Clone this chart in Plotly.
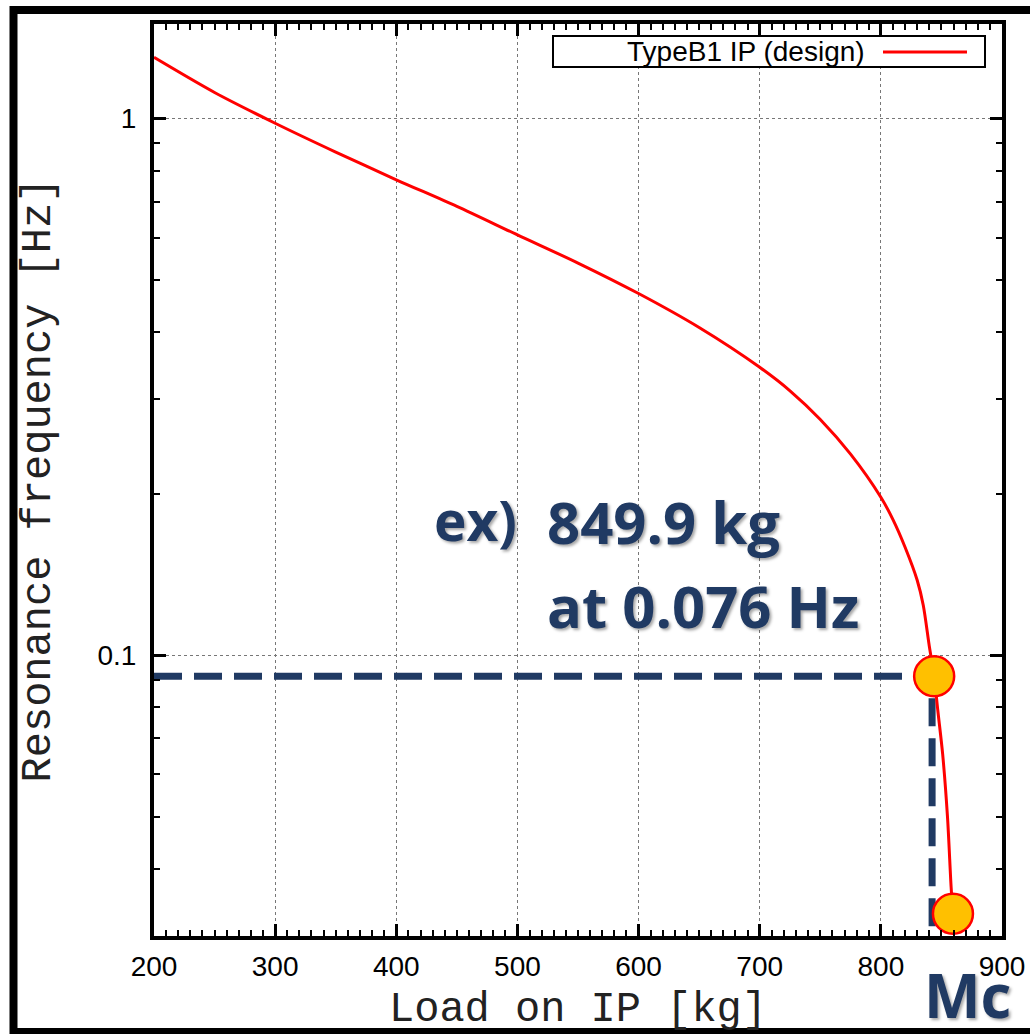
import math
import plotly.graph_objects as go

# ---- data ----
load_kg = [200, 250, 300, 350, 400, 450, 500, 550, 600, 650, 700, 725, 750, 775,
           800, 810, 820, 830, 835, 840, 844, 847, 851, 855, 858, 859.5]
freq_hz = [1.30, 1.118, 0.980, 0.866, 0.769, 0.686, 0.607, 0.538, 0.472, 0.408,
           0.344, 0.311, 0.275, 0.237, 0.197, 0.179, 0.159, 0.138, 0.124, 0.104,
           0.0914, 0.079, 0.0655, 0.050, 0.037, 0.033]
series_name = "TypeB1 IP (design)"

point_load = [844, 859.5]
point_freq = [0.0914, 0.033]

guide_load = 842.3
guide_freq = 0.0914

x_ticks = [200, 300, 400, 500, 600, 700, 800, 900]
y_ticks = [0.1, 1]
y_tick_text = ["0.1", "1"]
y_minor = [0.04, 0.05, 0.06, 0.07, 0.08, 0.09, 0.2, 0.3, 0.4, 0.5, 0.6, 0.7, 0.8, 0.9]
x_range = [200, 900]
y_range = [0.03, 1.5]

NAVY = "#203A63"

fig = go.Figure()

# dashed guide lines
fig.add_trace(go.Scatter(x=[x_range[0], guide_load, guide_load],
                         y=[guide_freq, guide_freq, y_range[0]],
                         mode="lines", showlegend=False, hoverinfo="skip",
                         line=dict(color=NAVY, width=7, dash="28px,12px")))

fig.add_trace(go.Scatter(x=load_kg, y=freq_hz, mode="lines", name=series_name,
                         showlegend=False,
                         line=dict(color="#FF0000", width=3, shape="spline", smoothing=0.8)))

fig.add_trace(go.Scatter(x=point_load, y=point_freq, mode="markers", showlegend=False,
                         cliponaxis=False,
                         marker=dict(size=40, color="#FFC000", line=dict(color="#FF0000", width=2.5))))

axis_common = dict(showline=True, linecolor="black", linewidth=4, mirror="allticks",
                   ticks="inside", ticklen=12, tickwidth=2.5, tickcolor="black",
                   showgrid=True, gridcolor="#777777", gridwidth=1, griddash="dot",
                   zeroline=False,
                   tickfont=dict(family="Liberation Sans, Arial", size=28, color="black"))

fig.update_xaxes(range=x_range, tickmode="array", tickvals=x_ticks,
                 ticktext=[str(v) for v in x_ticks], ticklabelstandoff=2,
                 minor=dict(dtick=10, ticks="inside", ticklen=6, tickwidth=2, tickcolor="black", showgrid=False),
                 title=dict(text="Load on IP [kg]", standoff=32,
                            font=dict(family="Liberation Mono, Courier New", size=42, color="#222")),
                 **axis_common)

fig.update_yaxes(type="log", range=[math.log10(y_range[0]), math.log10(y_range[1])],
                 tickmode="array", tickvals=y_ticks, ticktext=y_tick_text, ticklabelstandoff=8,
                 minor=dict(tickmode="array", tickvals=y_minor, ticks="inside", ticklen=6,
                            tickwidth=2, tickcolor="black", showgrid=False),
                 title=dict(text="Resonance frequency [Hz]", standoff=35,
                            font=dict(family="Liberation Mono, Courier New", size=42, color="#222")),
                 **axis_common)

L, R, T, B = 154, 28, 24, 98
W, H = 1030, 1034
pw, ph = W - L - R, H - T - B

def px(xp):
    return (xp - L) / pw

def py(yp):
    return (H - B - yp) / ph

shapes = []
# manual legend
shapes.append(dict(type="rect", xref="paper", yref="paper", x0=px(553), x1=px(985),
                   y0=py(67), y1=py(36), fillcolor="white", line=dict(color="black", width=2),
                   layer="above"))
shapes.append(dict(type="line", xref="paper", yref="paper", x0=px(883), x1=px(967),
                   y0=py(52), y1=py(52), line=dict(color="#FF0000", width=3), layer="above"))
# outer frame
shapes.append(dict(type="rect", xref="paper", yref="paper", x0=px(13.5), x1=px(1050),
                   y0=py(1032), y1=py(10), line=dict(color="black", width=8), layer="above"))

annotations = [
    dict(text=series_name, xref="paper", yref="paper", x=px(867), y=py(52),
         xanchor="right", yanchor="middle", showarrow=False,
         font=dict(family="Liberation Sans, Arial", size=28, color="black")),
]

big = [("ex)", 432, 519, 55), ("849.9 kg", 545, 521, 58), ("at 0.076 Hz", 545, 605, 58),
       ("Mc", 922, 995, 60)]
for txt, x0, y0, sz in big:
    annotations.append(dict(text="<b>%s</b>" % txt, xref="paper", yref="paper",
                            x=px(x0), y=py(y0), xanchor="left", yanchor="middle",
                            showarrow=False,
                            font=dict(family="Open Sans", size=sz, color=NAVY,
                                      shadow="2px 2px 3px rgba(0,0,0,0.35)")))

fig.update_layout(width=W, height=H, margin=dict(l=L, r=R, t=T, b=B, autoexpand=False),
                  paper_bgcolor="white", plot_bgcolor="white",
                  shapes=shapes, annotations=annotations, showlegend=False)

fig.write_html("out.html", config={"displayModeBar": False},
               post_script="document.body.style.margin='0px';")
